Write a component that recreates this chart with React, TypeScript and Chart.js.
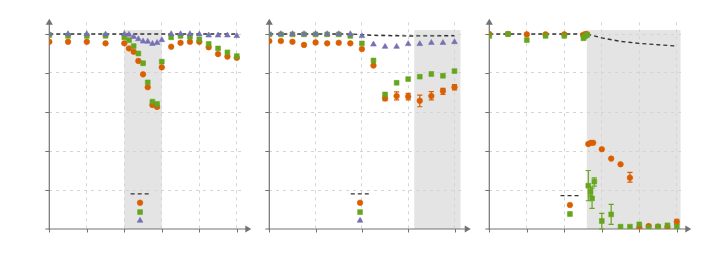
import React, { useEffect, useRef } from "react";
import { Chart, registerables } from "chart.js";
Chart.register(...registerables);

const ORANGE = "#d95f02";
const GREEN = "#66a61e";
const PURPLE = "#7570b3";
const DASH = "#333333";
const AXIS = "#727272";
const GRID = "#d4d4d4";
const SHADE = "#e4e4e4";

// ---------- Panel 1 ----------
const p1Time = [0, 0.5, 1, 1.5, 2, 2.125, 2.25, 2.375, 2.5, 2.625, 2.75, 2.875, 3, 3.25, 3.5, 3.75, 4, 4.25, 4.5, 4.75, 5];
const p1Orange = [0.96, 0.96, 0.96, 0.952, 0.952, 0.926, 0.909, 0.862, 0.793, 0.727, 0.636, 0.626, 0.829, 0.935, 0.955, 0.96, 0.96, 0.932, 0.897, 0.884, 0.878];
const p1Green = [0.995, 0.99, 0.99, 0.991, 0.983, 0.969, 0.938, 0.9, 0.85, 0.752, 0.653, 0.641, 0.858, 0.983, 0.99, 0.986, 0.972, 0.949, 0.926, 0.906, 0.887];
const p1Purple = [1.0, 1.0, 1.0, 0.998, 1.0, 0.997, 0.986, 0.974, 0.962, 0.961, 0.95, 0.955, 0.969, 1.0, 1.0, 1.0, 0.998, 0.993, 0.993, 0.993, 0.99];
const p1RefX = [0, 5];
const p1RefY = [1, 1];
const p1Shade = [2, 3];

// ---------- Panel 2 ----------
const p2Time = [0, 0.25, 0.5, 0.75, 1, 1.25, 1.5, 1.75, 2, 2.25, 2.5, 2.75, 3, 3.25, 3.5, 3.75, 4];
const p2Orange = [0.964, 0.964, 0.96, 0.944, 0.957, 0.952, 0.955, 0.952, 0.923, 0.838, 0.67, 0.682, 0.679, 0.658, 0.682, 0.708, 0.727];
const p2OrangeLow = [null, null, null, null, null, null, null, null, null, null, 0.658, 0.662, 0.662, 0.627, 0.662, 0.69, 0.713];
const p2OrangeHigh = [null, null, null, null, null, null, null, null, null, null, 0.682, 0.703, 0.696, 0.687, 0.704, 0.721, 0.74];
const p2Green = [0.998, 0.998, 0.998, 0.998, 0.998, 0.998, 0.998, 0.99, 0.952, 0.864, 0.69, 0.75, 0.769, 0.781, 0.795, 0.786, 0.81];
const p2Purple = [1.0, 1.0, 1.0, 1.0, 1.0, 1.0, 1.0, 1.0, 0.99, 0.947, 0.935, 0.935, 0.949, 0.949, 0.955, 0.955, 0.959];
const p2RefX = [0, 1.75, 2.25, 3, 4];
const p2RefY = [1, 1, 0.993, 0.99, 0.991];
const p2Shade = [3.13, 4.13];

// ---------- Panel 3 ----------
const p3OrangeTime = [0, 0.5, 1, 1.5, 2, 2.5, 2.56, 2.6, 2.64, 2.71, 2.77, 3, 3.25, 3.5, 3.75, 4, 4.25, 4.5, 4.75, 5];
const p3Orange = [1.0, 1.0, 0.998, 0.998, 0.998, 0.995, 1.0, 1.0, 0.436, 0.442, 0.442, 0.409, 0.361, 0.332, 0.263, 0.007, 0.015, 0.012, 0.01, 0.037];
const p3OrangeLow = [null, null, null, null, null, null, null, null, null, null, null, null, null, null, 0.24, null, null, null, null, 0.025];
const p3OrangeHigh = [null, null, null, null, null, null, null, null, null, null, null, null, null, null, 0.29, null, null, null, null, 0.05];
const p3GreenTime = [0, 0.5, 1, 1.5, 2, 2.51, 2.53, 2.57, 2.61, 2.64, 2.7, 2.74, 2.8, 3, 3.25, 3.5, 3.75, 4, 4.25, 4.5, 4.75, 5];
const p3Green = [0.99, 1.0, 0.969, 0.99, 0.99, 0.978, 0.986, 0.991, 0.995, 0.222, 0.191, 0.157, 0.243, 0.041, 0.075, 0.012, 0.012, 0.024, 0.007, 0.012, 0.019, 0.012];
const p3GreenLow = [null, null, null, null, null, null, null, null, null, 0.145, 0.17, 0.106, 0.22, 0.0, 0.024, null, null, null, null, null, null, null];
const p3GreenHigh = [null, null, null, null, null, null, null, null, null, 0.3, 0.215, 0.21, 0.262, 0.08, 0.126, null, null, null, null, null, null, null];
const p3RefX = [0, 2.6, 3, 3.5, 4, 4.5, 5];
const p3RefY = [1, 1, 0.98, 0.962, 0.952, 0.945, 0.938];
const p3Shade = [2.6, 5.1];

// ---------- in-plot key (dash + markers) ----------
const keyDashX1 = [2.17, 2.66];
const keyMarkX1 = 2.42;
const keyDashX2 = [1.76, 2.16];
const keyMarkX2 = 1.96;
const keyDashX3 = [1.9, 2.4];
const keyMarkX3 = 2.15;
const keyYs12 = { dash: 0.18, circle: 0.135, square: 0.087, triangle: 0.043 };
const keyYs3 = { dash: 0.171, circle: 0.123, square: 0.077 };

const xTicks5 = [0, 1, 2, 3, 4, 5];
const xTicks4 = [0, 1, 2, 3, 4];
const yTicks = [0.2, 0.4, 0.6, 0.8, 1.0];
const Y_MAX = 1.06;
const SHADE_TOP = 1.02;

const W = 709;
const H = 275;
const PAD_TOP = 22.3;
const PAD_BOTTOM = 46;

const pts = (xs: number[], ys: number[]) => xs.map((x, i) => ({ x, y: ys[i] }));

const marker = (data: any[], color: string, style: string, radius: number, order: number) => ({
  data,
  showLine: false,
  pointStyle: style,
  pointRadius: radius,
  pointBackgroundColor: color,
  pointBorderColor: color,
  pointBorderWidth: 0.6,
  order,
});

const dashed = (data: any[], order: number) => ({
  data,
  showLine: true,
  borderColor: DASH,
  borderWidth: 1.4,
  borderDash: [4, 3],
  pointRadius: 0,
  fill: false,
  tension: 0,
  order,
});

const R_CIRCLE = 2.8;
const R_RECT = 3.4;
const R_TRI = 3.3;

const decorPlugin = {
  id: "decor",
  beforeDraw(chart: any, _a: any, opts: any) {
    const { ctx } = chart;
    const x = chart.scales.x;
    const y = chart.scales.y;
    const x0 = x.getPixelForValue(opts.shade[0]);
    const x1 = x.getPixelForValue(opts.shade[1]);
    const yt = y.getPixelForValue(SHADE_TOP);
    const yb = y.getPixelForValue(0);
    ctx.save();
    ctx.fillStyle = SHADE;
    ctx.fillRect(x0, yt, x1 - x0, yb - yt);
    ctx.restore();
  },
  beforeDatasetsDraw(chart: any, _a: any, opts: any) {
    const { ctx, chartArea } = chart;
    const x = chart.scales.x;
    const y = chart.scales.y;
    const ox = x.getPixelForValue(0);
    const oy = y.getPixelForValue(0);
    ctx.save();
    ctx.strokeStyle = AXIS;
    ctx.fillStyle = AXIS;
    ctx.lineWidth = 1.2;
    // x axis
    ctx.beginPath();
    ctx.moveTo(ox - 4, oy);
    ctx.lineTo(chartArea.right + 2, oy);
    ctx.stroke();
    ctx.beginPath();
    ctx.moveTo(chartArea.right + 7, oy);
    ctx.lineTo(chartArea.right + 1, oy - 3.6);
    ctx.lineTo(chartArea.right + 1, oy + 3.6);
    ctx.closePath();
    ctx.fill();
    // y axis
    ctx.beginPath();
    ctx.moveTo(ox, oy + 1);
    ctx.lineTo(ox, chartArea.top + 1);
    ctx.stroke();
    ctx.beginPath();
    ctx.moveTo(ox, chartArea.top - 3.5);
    ctx.lineTo(ox - 3.6, chartArea.top + 2.5);
    ctx.lineTo(ox + 3.6, chartArea.top + 2.5);
    ctx.closePath();
    ctx.fill();
    // tick marks
    ctx.lineWidth = 1;
    for (const v of opts.xTicks) {
      const px = Math.round(x.getPixelForValue(v)) + 0.5;
      ctx.beginPath();
      ctx.moveTo(px, oy);
      ctx.lineTo(px, oy + 3.5);
      ctx.stroke();
    }
    for (const v of yTicks) {
      const py = Math.round(y.getPixelForValue(v)) + 0.5;
      ctx.beginPath();
      ctx.moveTo(ox - 4, py);
      ctx.lineTo(ox, py);
      ctx.stroke();
    }
    // error bars
    ctx.lineWidth = 1.2;
    for (const e of opts.errors) {
      ctx.strokeStyle = e.color;
      e.xs.forEach((xv: number, i: number) => {
        const lo = e.lo[i];
        const hi = e.hi[i];
        if (lo == null || hi == null) return;
        const px = x.getPixelForValue(xv);
        const pl = y.getPixelForValue(lo);
        const ph = y.getPixelForValue(hi);
        ctx.beginPath();
        ctx.moveTo(px, pl);
        ctx.lineTo(px, ph);
        ctx.moveTo(px - 2.6, pl);
        ctx.lineTo(px + 2.6, pl);
        ctx.moveTo(px - 2.6, ph);
        ctx.lineTo(px + 2.6, ph);
        ctx.stroke();
      });
    }
    ctx.restore();
  },
};

type PanelCfg = {
  left: number;
  unit: number;
  xMax: number;
  xTicks: number[];
  shade: number[];
  datasets: any[];
  errors: any[];
};

const panels: PanelCfg[] = [
  {
    left: 49.3,
    unit: 37.5,
    xMax: 5.2,
    xTicks: xTicks5,
    shade: p1Shade,
    errors: [],
    datasets: [
      marker(pts(p1Time, p1Purple), PURPLE, "triangle", R_TRI, 1),
      marker(pts(p1Time, p1Green), GREEN, "rect", R_RECT, 2),
      marker(pts(p1Time, p1Orange), ORANGE, "circle", R_CIRCLE, 3),
      dashed(pts(p1RefX, p1RefY), 4),
      dashed(pts(keyDashX1, [keyYs12.dash, keyYs12.dash]), 4),
      marker([{ x: keyMarkX1, y: keyYs12.circle }], ORANGE, "circle", R_CIRCLE, 3),
      marker([{ x: keyMarkX1, y: keyYs12.square }], GREEN, "rect", R_RECT, 3),
      marker([{ x: keyMarkX1, y: keyYs12.triangle }], PURPLE, "triangle", R_TRI, 3),
    ],
  },
  {
    left: 269.3,
    unit: 46.3,
    xMax: 4.2,
    xTicks: xTicks4,
    shade: p2Shade,
    errors: [{ xs: p2Time, lo: p2OrangeLow, hi: p2OrangeHigh, color: ORANGE }],
    datasets: [
      marker(pts(p2Time, p2Purple), PURPLE, "triangle", R_TRI, 1),
      marker(pts(p2Time, p2Green), GREEN, "rect", R_RECT, 2),
      marker(pts(p2Time, p2Orange), ORANGE, "circle", R_CIRCLE, 3),
      dashed(pts(p2RefX, p2RefY), 4),
      dashed(pts(keyDashX2, [keyYs12.dash, keyYs12.dash]), 4),
      marker([{ x: keyMarkX2, y: keyYs12.circle }], ORANGE, "circle", R_CIRCLE, 3),
      marker([{ x: keyMarkX2, y: keyYs12.square }], GREEN, "rect", R_RECT, 3),
      marker([{ x: keyMarkX2, y: keyYs12.triangle }], PURPLE, "triangle", R_TRI, 3),
    ],
  },
  {
    left: 489.3,
    unit: 37.5,
    xMax: 5.2,
    xTicks: xTicks5,
    shade: p3Shade,
    errors: [
      { xs: p3OrangeTime, lo: p3OrangeLow, hi: p3OrangeHigh, color: ORANGE },
      { xs: p3GreenTime, lo: p3GreenLow, hi: p3GreenHigh, color: GREEN },
    ],
    datasets: [
      marker(pts(p3GreenTime, p3Green), GREEN, "rect", R_RECT, 2),
      marker(pts(p3OrangeTime, p3Orange), ORANGE, "circle", R_CIRCLE, 3),
      dashed(pts(p3RefX, p3RefY), 4),
      dashed(pts(keyDashX3, [keyYs3.dash, keyYs3.dash]), 4),
      marker([{ x: keyMarkX3, y: keyYs3.circle }], ORANGE, "circle", R_CIRCLE, 3),
      marker([{ x: keyMarkX3, y: keyYs3.square }], GREEN, "rect", R_RECT, 3),
    ],
  },
];

function Panel({ cfg }: { cfg: PanelCfg }) {
  const ref = useRef<HTMLCanvasElement | null>(null);
  useEffect(() => {
    if (!ref.current) return;
    const right = cfg.left + cfg.xMax * cfg.unit;
    const chart = new Chart(ref.current, {
      type: "scatter",
      data: { datasets: cfg.datasets },
      plugins: [decorPlugin as any],
      options: {
        animation: false,
        responsive: false,
        maintainAspectRatio: false,
        devicePixelRatio: 1,
        events: [],
        layout: {
          padding: { left: cfg.left, right: W - right, top: PAD_TOP, bottom: PAD_BOTTOM },
        },
        plugins: {
          legend: { display: false },
          tooltip: { enabled: false },
          decor: { shade: cfg.shade, xTicks: cfg.xTicks, errors: cfg.errors },
        } as any,
        scales: {
          x: {
            type: "linear",
            min: 0,
            max: cfg.xMax,
            ticks: { display: false },
            border: { display: false, dash: [3, 4] },
            grid: { color: GRID, lineWidth: 1, drawTicks: false },
            afterBuildTicks: (s: any) => {
              s.ticks = cfg.xTicks.filter((v) => v > 0).map((v) => ({ value: v }));
            },
          },
          y: {
            type: "linear",
            min: 0,
            max: Y_MAX,
            ticks: { display: false },
            border: { display: false, dash: [3, 4] },
            grid: { color: GRID, lineWidth: 1, drawTicks: false },
            afterBuildTicks: (s: any) => {
              s.ticks = yTicks.map((v) => ({ value: v }));
            },
          },
        },
      },
    });
    return () => chart.destroy();
  }, [cfg]);
  return (
    <canvas
      ref={ref}
      width={W}
      height={H}
      style={{ position: "absolute", left: 0, top: 0, width: W, height: H, pointerEvents: "none" }}
    />
  );
}

export default function App() {
  return (
    <div style={{ position: "fixed", left: 0, top: 0, width: W, height: H, background: "#fff", overflow: "hidden" }}>
      {panels.map((p, i) => (
        <Panel key={i} cfg={p} />
      ))}
    </div>
  );
}
